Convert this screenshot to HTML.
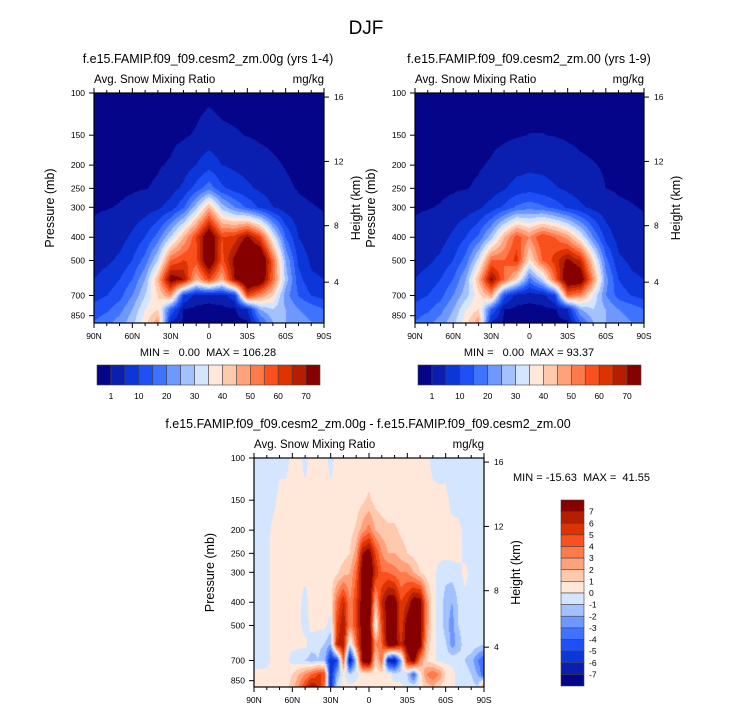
<!DOCTYPE html>
<html><head><meta charset="utf-8">
<style>
html,body{margin:0;padding:0;background:#fff;}
#root{position:relative;width:733px;height:712px;overflow:hidden;font-family:"Liberation Sans",sans-serif;}
canvas{position:absolute;}
svg{position:absolute;left:0;top:0;}
svg text{white-space:pre;}
</style></head>
<body>
<div id="root">
<canvas id="cA" width="230" height="230" style="left:94px;top:93px"></canvas>
<canvas id="cB" width="229" height="230" style="left:415px;top:93px"></canvas>
<canvas id="cD" width="230" height="229" style="left:254px;top:458px"></canvas>
<svg id="svg" width="733" height="712"></svg>
</div>
<script>
// ---- data ----
const levels=[100,150,200,250,300,400,500,600,700,800,900];
const latsTop=[90,80,70,60,50,40,30,20,10,0,-10,-20,-30,-40,-50,-60,-70,-80,-90];
const latsDiff=[90,85,80,75,70,65,60,55,50,45,40,35,30,25,20,15,10,5,0,-5,-10,-15,-20,-25,-30,-35,-40,-45,-50,-55,-60,-65,-70,-75,-80,-85,-90];
const snowA=[
[0.2,0.2,0.2,0.2,0.2,0.2,0.2,0.2,0.3,0.5,0.3,0.2,0.2,0.2,0.2,0.2,0.2,0.2,0.2],
[0.2,0.2,0.2,0.3,0.3,0.4,0.5,0.7,1.2,2.0,1.4,1.2,0.9,0.6,0.5,0.4,0.3,0.2,0.2],
[0.3,0.3,0.4,0.5,0.6,0.8,1.2,2.5,5,8,5,4,3,2,1.3,0.9,0.6,0.4,0.3],
[0.5,0.6,0.7,0.8,0.9,1.3,3,6,12,18,11,8,6,4,2.5,1.3,0.9,0.7,0.6],
[0.8,0.9,1.1,1.5,2.5,4,7,14,28,45,28,20,14,9,5,2.5,1.3,1.1,0.9],
[1.5,2,3,6,10,17,30,45,60,80,60,62,72,60,35,15,5,2,1.5],
[3,4,6,10,17,30,55,60,58,80,58,72,85,85,55,25,9,4,3],
[5,7,10,15,25,45,75,70,45,60,45,70,85,80,55,28,12,6,5],
[8,10,13,20,30,40,50,10,3,2,3,8,60,50,40,22,15,10,8],
[12,14,18,25,35,40,15,1,0.2,0.2,0.2,0.5,5,25,30,25,20,18,15],
[15,18,22,28,38,48,5,0.3,0.1,0.1,0.1,0.1,0.5,15,25,25,22,20,20]];
const snowB=[
[0.2,0.2,0.2,0.2,0.2,0.2,0.2,0.2,0.2,0.2,0.2,0.2,0.2,0.2,0.2,0.2,0.2,0.2,0.2],
[0.2,0.2,0.2,0.3,0.3,0.4,0.5,0.6,0.8,1.05,1.05,0.9,0.7,0.5,0.4,0.3,0.2,0.2,0.2],
[0.3,0.3,0.4,0.5,0.6,0.8,1.2,2,3,3.5,3.5,2.8,2,1.4,1.1,0.8,0.6,0.4,0.3],
[0.5,0.6,0.7,0.8,0.9,1.3,2.5,4.5,7,8,7,5.5,4,2.5,1.6,1.0,0.8,0.7,0.6],
[0.8,0.9,1.1,1.5,2.5,4,7,11,16,18,16,13,9,6,3.5,2,1.3,1.1,0.9],
[1.5,2,3,6,10,16,28,45,58,50,60,55,48,35,20,8,3,2,1.5],
[3,4,6,10,17,32,55,55,62,38,55,62,72,65,40,17,6,4,3],
[5,7,10,15,25,45,72,55,40,18,30,55,80,78,50,22,10,6,5],
[8,10,13,20,28,38,48,12,3,2,3,10,55,50,35,20,13,10,8],
[12,14,18,25,35,40,15,1,0.2,0.2,0.2,0.5,5,25,30,25,20,18,15],
[15,18,22,28,38,48,5,0.3,0.1,0.1,0.1,0.1,0.5,15,25,25,22,20,20]];
const snowDiff=[
[-.5,-.5,-.5,-.5,-.3,-.3,.3,.3,-.3,.3,.3,.3,-.3,.3,.3,.3,.3,.3,.3,.3,.3,.3,.3,.3,.3,.3,.3,.3,-.3,-.5,-.5,-.5,-.5,-.5,-.5,-.3,-.5],
[-.5,-.5,-.5,-.3,.3,.3,.3,.3,.3,.3,.3,.3,.3,.3,.3,.3,.4,.8,1.2,.6,.4,.3,.3,.3,.3,.3,.3,.3,.3,.3,.3,-.3,-.5,-.5,-.3,-.3,-.5],
[-.5,-.5,-.4,.3,.3,.3,.3,.3,.3,.3,.3,.3,.3,.3,.4,.6,1.2,2.5,3.5,2,1.5,1.2,1.2,.8,.5,.4,.3,.3,.3,.3,.3,.3,.3,-.3,-.3,-.4,-.5],
[-.5,-.5,-.3,.3,.3,.3,.3,.3,.3,.3,.3,.3,.3,.4,.6,1,2.5,7,8,5,3,2,2,1.5,1,.6,.4,.3,.3,.3,.3,.3,.3,-.3,-.3,-.4,-.5],
[-.5,-.5,-.3,.3,.3,.3,.3,.3,.3,.3,.3,.3,.4,.8,1.5,2,4,8,9,6,4,4,3.5,3,3,2,1,.4,.3,-.3,-.6,-.5,-.3,.3,-.3,-.4,-.5],
[-.5,-.5,-.3,.3,.3,.3,.3,.3,-.4,.5,.3,.3,.5,4,6,3,5,8,9,2,6,8,8,5,6,8,8,3,.3,-.3,-1.5,-2,-.8,-.3,-.3,-.5,-.5],
[-.5,-.5,-.3,.3,.3,.3,.3,.3,-.4,.3,.3,.3,-.4,5,7,3,5,8,9,-.5,5,8,8,5,8,9,8,3,.3,-.3,-1.5,-2.5,-1,-.3,-.3,-.5,-.5],
[-.5,-.5,-.3,.3,.3,.3,.3,.3,.3,-.5,-.8,-1,-2,6,7,-1,4,8,9,3,4,8,8,6,8,9,8,2,.3,-.3,-.8,-2.5,-1.5,-.5,-.3,-.6,-1],
[-.5,-.5,-.3,.3,.3,.3,-.4,-.8,-1,-1.5,-1,-1.5,-6,-5,4,-7,-1,8,9,1,4,-6,-7,-2,6,8,3,1,.3,-.3,-.3,-.3,-.5,-1,-1.5,-3,-4],
[.3,.3,.3,.3,.3,.5,1,2,3,4,5,5,-6,-2,.3,-1,-.3,.3,.3,.3,.3,.3,-.5,-.5,-1,-4,.5,3,4,3,1,.3,-.3,-.5,-1,-2,-4],
[.3,.3,.3,.3,.3,.5,1.5,3,5,7,6,4,-6,-.5,.3,.3,.3,.3,.3,.3,.3,.3,.3,.3,-.3,-.3,.3,1.5,2,1,.3,.3,-.3,-.5,-.5,-1,3]];
const topBounds=[1,5,10,15,20,25,30,35,40,45,50,55,60,65,70];
const topLabels=["1","10","20","30","40","50","60","70"];
const diffBounds=[-7,-6,-5,-4,-3,-2,-1,0,1,2,3,4,5,6,7];
const pTicks=[100,150,200,250,300,400,500,700,850];
const hTicks=["16","12","8","4"];
const hTickP=[104,193,358,616];
const latTicks=[90,60,30,0,-30,-60,-90];
const latLabels=["90N","60N","30N","0","30S","60S","90S"];
const palette=["#05058a","#0a1fb0","#0c36d8","#1f50f5","#3f73ff","#6f98ff","#a3c0ff","#d4e5ff","#ffe8da","#ffc9ae","#ffa27c","#ff7a4b","#fa501d","#dc3300","#b31f00","#870000"];

// ---- axis helpers ----
const W=230,H=230,PMAX=912,K=H/Math.log(PMAX/100);
function xOf(p,lat){return p.x0+(90-lat)/180*p.w;}
function yOf(p,pr){return p.y0+Math.log(pr/100)*K;}
function hex(c){return [parseInt(c.slice(1,3),16),parseInt(c.slice(3,5),16),parseInt(c.slice(5,7),16)];}
const palRGB=palette.map(hex);
function idx(v,b){let i=0;while(i<b.length&&v>=b[i])i++;return i;}
function fracIndex(arr,v,desc){
  const n=arr.length;
  for(let i=0;i<n-1;i++){
    const a=arr[i],b=arr[i+1];
    if(desc?(v<=a&&v>=b):(v>=a&&v<=b)){return i+(v-a)/(b-a);}
  }
  return desc?(v>arr[0]?0:n-1):(v<arr[0]?0:n-1);
}
function drawField(id,grid,lats,bounds){
  const c=document.getElementById(id),ctx=c.getContext('2d');
  const w=c.width,h=c.height,img=ctx.createImageData(w,h);
  const logL=levels.map(v=>Math.log(v));
  for(let py=0;py<h;py++){
    const pr=100*Math.exp((py+0.5)/K);
    const fr=fracIndex(logL,Math.log(pr),false);
    const r0=Math.min(Math.floor(fr),levels.length-2),tr=Math.min(1,fr-r0);
    for(let px=0;px<w;px++){
      const lat=90-(px+0.5)/w*180;
      const fc=fracIndex(lats,lat,true);
      const c0=Math.min(Math.floor(fc),lats.length-2),tc=Math.min(1,fc-c0);
      const v=(grid[r0][c0]*(1-tc)+grid[r0][c0+1]*tc)*(1-tr)+(grid[r0+1][c0]*(1-tc)+grid[r0+1][c0+1]*tc)*tr;
      const col=palRGB[idx(v,bounds)],o=(py*w+px)*4;
      img.data[o]=col[0];img.data[o+1]=col[1];img.data[o+2]=col[2];img.data[o+3]=255;
    }
  }
  ctx.putImageData(img,0,0);
}
drawField('cA',snowA,latsTop,topBounds);
drawField('cB',snowB,latsTop,topBounds);
drawField('cD',snowDiff,latsDiff,diffBounds);

// ---- svg ----
const svg=document.getElementById('svg');
const NS='http://www.w3.org/2000/svg';
function el(tag,attrs,parent){const e=document.createElementNS(NS,tag);for(const k in attrs)e.setAttribute(k,attrs[k]);(parent||svg).appendChild(e);return e;}
function txt(s,x,y,size,anchor,parent){const t=el('text',{x:x,y:y,'font-size':size,'text-anchor':anchor||'start',fill:'#000','font-family':'Liberation Sans, sans-serif'},parent);t.textContent=s;return t;}

const panels=[
 {x0:94,y0:93,w:230,h:230,title:"f.e15.FAMIP.f09_f09.cesm2_zm.00g (yrs 1-4)",tx:208,ty:63,name:'panel-left'},
 {x0:415,y0:93,w:229,h:230,title:"f.e15.FAMIP.f09_f09.cesm2_zm.00 (yrs 1-9)",tx:529,ty:63,name:'panel-right'},
 {x0:254,y0:458,w:230,h:229,title:"f.e15.FAMIP.f09_f09.cesm2_zm.00g - f.e15.FAMIP.f09_f09.cesm2_zm.00",tx:368,ty:428,name:'panel-difference'}
];
const main=txt("DJF",366,34,19,'middle');


panels.forEach(p=>{
  const g=el('g',{});
  
  
  const t=txt(p.title,p.tx,p.ty,12.5,'middle',g);
  
  
  const s1=txt("Avg. Snow Mixing Ratio",p.x0,p.y0-10,11.5,'start',g);
  
  
  const s2=txt("mg/kg",p.x0+p.w,p.y0-10,11.5,'end',g);
  
  
  const fr=el('rect',{x:p.x0,y:p.y0,width:p.w,height:p.h,fill:'none',stroke:'#000','stroke-width':1.2},g);
  
  
  for(let lat=90;lat>=-90;lat-=10){
    const x=xOf(p,lat),maj=(lat%30===0);
    const L=maj?5:3;
    el('line',{x1:x,y1:p.y0+p.h,x2:x,y2:p.y0+p.h+L,stroke:'#000','stroke-width':1},g);
    el('line',{x1:x,y1:p.y0,x2:x,y2:p.y0-L,stroke:'#000','stroke-width':1},g);
  }
  latTicks.forEach((lat,i)=>{
    const t=txt(latLabels[i],xOf(p,lat),p.y0+p.h+16,8.5,'middle',g);
    
    
  });
  pTicks.forEach(pr=>{
    const y=yOf(p,pr);
    el('line',{x1:p.x0-5,y1:y,x2:p.x0,y2:y,stroke:'#000','stroke-width':1},g);
    const t=txt(String(pr),p.x0-9,y+3,8.5,'end',g);
    
    
  });
  hTickP.forEach((pr,i)=>{
    const y=yOf(p,pr);
    el('line',{x1:p.x0+p.w,y1:y,x2:p.x0+p.w+5,y2:y,stroke:'#000','stroke-width':1},g);
    const t=txt(hTicks[i],p.x0+p.w+10,y+3,8.5,'start',g);
    
    
  });
  const yl=txt("Pressure (mb)",0,0,12.5,'middle',g);
  yl.setAttribute('transform',`translate(${p.x0-40},${p.y0+p.h/2}) rotate(-90)`);
  
  
  const hl=txt("Height (km)",0,0,12.5,'middle',g);
  hl.setAttribute('transform',`translate(${p.x0+p.w+36},${p.y0+p.h/2}) rotate(-90)`);
  
  
});
const mm1=txt("MIN =   0.00  MAX = 106.28",208,356,11,'middle');


const mm2=txt("MIN =   0.00  MAX = 93.37",529,356,11,'middle');


const mm3=txt("MIN = -15.63  MAX =  41.55",513,481,11,'start');


[[97,320],[418,641]].forEach((cb,k)=>{
  const g=el('g',{});
  
  
  const bw=(cb[1]-cb[0])/palette.length;
  palette.forEach((c,i)=>{
    const r=el('rect',{x:cb[0]+i*bw,y:365,width:bw,height:20,fill:c,stroke:'#444','stroke-width':0.6},g);
    
    
  });
  topLabels.forEach((s,j)=>{
    const t=txt(s,cb[0]+(1+2*j)*bw,399,8.5,'middle',g);
    
    
  });
});
(function(){
  const g=el('g',{});
  
  
  const x0=561,y0=500,y1=686,bh=(y1-y0)/palette.length;
  palette.slice().reverse().forEach((c,i)=>{
    const r=el('rect',{x:x0,y:y0+i*bh,width:23,height:bh,fill:c,stroke:'#444','stroke-width':0.6},g);
    
    
  });
  diffBounds.slice().reverse().forEach((v,i)=>{
    const t=txt(String(v),589,y0+(i+1)*bh+3,8.5,'start',g);
    
    
  });
})();
</script>
</body></html>
